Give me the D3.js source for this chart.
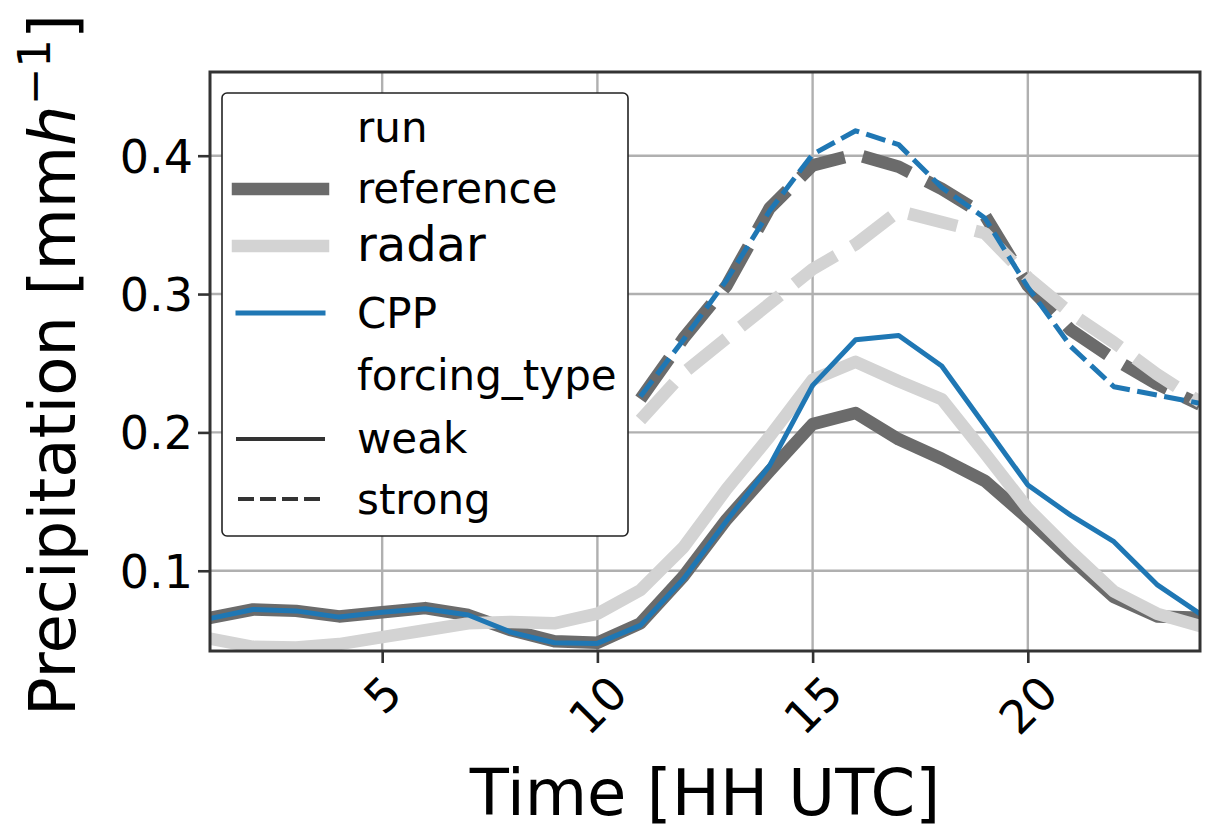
<!DOCTYPE html>
<html>
<head>
<meta charset="utf-8">
<script src="https://cdn.jsdelivr.net/npm/d3@7"></script>
<style>
  body { margin: 0; background: #fff; }
  svg { display: block; }
  text { font-family: "DejaVu Sans", "Liberation Sans", sans-serif; fill: #000; }
</style>
</head>
<body>
<svg id="chart" width="1207" height="831"></svg>
<script>
// ---------------- data ----------------
const hoursWeak   = [1,2,3,4,5,6,7,8,9,10,11,12,13,14,15,16,17,18,19,20,21,22,23,24];
const hoursStrong = [11,12,13,14,15,16,17,18,19,20,21,22,23,24];

const referenceWeak = [0.066,0.072,0.071,0.067,0.070,0.073,0.068,0.057,0.049,0.048,0.062,0.096,0.137,0.172,0.206,0.214,0.195,0.181,0.165,0.138,0.109,0.081,0.067,0.066];
const radarWeak     = [0.051,0.045,0.0445,0.047,0.052,0.057,0.062,0.063,0.062,0.069,0.086,0.117,0.159,0.197,0.238,0.251,0.237,0.224,0.185,0.145,0.114,0.085,0.069,0.060];
const cppWeak       = [0.0655,0.072,0.071,0.0665,0.070,0.0725,0.068,0.0555,0.048,0.0475,0.0605,0.094,0.136,0.176,0.234,0.267,0.270,0.248,0.205,0.162,0.140,0.121,0.090,0.069];

const referenceStrong = [0.224,0.268,0.306,0.362,0.393,0.401,0.392,0.376,0.357,0.306,0.274,0.253,0.235,0.220];
const radarStrong     = [0.209,0.243,0.268,0.293,0.318,0.336,0.360,0.352,0.344,0.312,0.286,0.265,0.242,0.222];
const cppStrong       = [0.226,0.267,0.310,0.360,0.401,0.418,0.408,0.377,0.355,0.305,0.262,0.233,0.227,0.221];

const xTicks = [5,10,15,20];
const xTickLabels = ["5","10","15","20"];
const yTicks = [0.1,0.2,0.3,0.4];
const yTickLabels = ["0.1","0.2","0.3","0.4"];

const runNames = ["reference","radar","CPP"];
const forcingNames = ["weak","strong"];

// ---------------- styles ----------------
const runStyle = {
  reference: {color: "#6b6b6b", width: 12.5},
  radar:     {color: "#d3d3d3", width: 12.5},
  CPP:       {color: "#1f77b4", width: 5}
};

const series = [
  {run: "reference", forcing: "weak",   x: hoursWeak,   y: referenceWeak},
  {run: "reference", forcing: "strong", x: hoursStrong, y: referenceStrong},
  {run: "radar",     forcing: "weak",   x: hoursWeak,   y: radarWeak},
  {run: "radar",     forcing: "strong", x: hoursStrong, y: radarStrong},
  {run: "CPP",       forcing: "weak",   x: hoursWeak,   y: cppWeak},
  {run: "CPP",       forcing: "strong", x: hoursStrong, y: cppStrong}
];

// ---------------- layout ----------------
const svg = d3.select("#chart");
const L = 210, R = 1200, T = 72, B = 651;
const x = d3.scaleLinear().domain([1, 24]).range([L, R]);
const y = d3.scaleLinear().domain([0.042, 0.4605]).range([B, T]);

svg.append("rect").attr("width", 1207).attr("height", 831).attr("fill", "#fff");

svg.append("defs").append("clipPath").attr("id", "clip")
  .append("rect").attr("x", L).attr("y", T).attr("width", R - L).attr("height", B - T);

// grid
const grid = svg.append("g");
grid.selectAll(".gx").data(xTicks).join("line")
  .attr("x1", d => x(d)).attr("x2", d => x(d)).attr("y1", T).attr("y2", B)
  .attr("stroke", "#b0b0b0").attr("stroke-width", 2.4);
grid.selectAll(".gy").data(yTicks).join("line")
  .attr("y1", d => y(d)).attr("y2", d => y(d)).attr("x1", L).attr("x2", R)
  .attr("stroke", "#b0b0b0").attr("stroke-width", 2.4);

// lines
const lineGen = d3.line().x(d => x(d[0])).y(d => y(d[1]));
const lines = svg.append("g").attr("clip-path", "url(#clip)");
series.forEach(s => {
  const st = runStyle[s.run];
  const pts = s.x.map((h, i) => [h, s.y[i]]);
  const p = lines.append("path")
    .attr("d", lineGen(pts))
    .attr("fill", "none")
    .attr("stroke", st.color)
    .attr("stroke-width", st.width)
    .attr("stroke-linejoin", "round");
  if (s.forcing === "strong") {
    p.attr("stroke-dasharray", `${4 * st.width},${1.5 * st.width}`).attr("stroke-linecap", "butt");
  } else {
    p.attr("stroke-linecap", "square");
  }
});

// axes using d3 axis generators
const tickFont = 46;
const xAxis = d3.axisBottom(x).tickValues(xTicks).tickFormat((d, i) => xTickLabels[i]).tickSize(12).tickPadding(8);
const yAxis = d3.axisLeft(y).tickValues(yTicks).tickFormat((d, i) => yTickLabels[i]).tickSize(12).tickPadding(5);

const gx = svg.append("g").attr("transform", `translate(0,${B})`).call(xAxis);
const gy = svg.append("g").attr("transform", `translate(${L},0)`).call(yAxis);
[gx, gy].forEach(g => {
  g.select(".domain").remove();
  g.selectAll(".tick line").attr("stroke", "#333").attr("stroke-width", 2.6);
  g.selectAll(".tick text").attr("font-size", tickFont).attr("fill", "#000")
    .style("font-family", '"DejaVu Sans", sans-serif');
});
// rotate x tick labels by 45 deg, centred under the tick (matplotlib style)
gx.selectAll(".tick text").each(function() {
  const t = d3.select(this);
  const w = this.getComputedTextLength();
  const h = tickFont * 0.95;
  const half = (w + h) / (2 * Math.SQRT2);
  t.attr("text-anchor", "middle").attr("dy", null).attr("y", null)
   .attr("dominant-baseline", "central")
   .attr("transform", `translate(0,${12 + 6 + half}) rotate(-45)`);
});
gy.selectAll(".tick text").attr("dy", "0.36em");

// spines
svg.append("rect").attr("x", L).attr("y", T).attr("width", R - L).attr("height", B - T)
  .attr("fill", "none").attr("stroke", "#333").attr("stroke-width", 3);

// axis labels
svg.append("text")
  .attr("x", (L + R) / 2).attr("y", 815)
  .attr("text-anchor", "middle").attr("font-size", 64)
  .text("Time [HH UTC]");

const yl = svg.append("text")
  .attr("transform", `translate(75,${365}) rotate(-90)`)
  .attr("text-anchor", "middle").attr("font-size", 64);
yl.append("tspan").text("Precipitation [mm");
yl.append("tspan").attr("font-style", "italic").text("h");
yl.append("tspan").attr("font-size", 45).attr("dy", -25).text("\u22121");
yl.append("tspan").attr("dy", 25).text("]");

// legend
const lg = svg.append("g");
lg.append("rect").attr("x", 222).attr("y", 93).attr("width", 406).attr("height", 443)
  .attr("rx", 5).attr("fill", "#fff").attr("stroke", "#222").attr("stroke-width", 1.6);

const legendItems = [
  {label: "run", size: 42, base: 142},
  {label: runNames[0], size: 42, base: 203, color: runStyle.reference.color, width: runStyle.reference.width},
  {label: runNames[1], size: 48, base: 261, color: runStyle.radar.color, width: runStyle.radar.width},
  {label: runNames[2], size: 42, base: 328, color: runStyle.CPP.color, width: runStyle.CPP.width},
  {label: "forcing_type", size: 42, base: 390},
  {label: forcingNames[0], size: 42, base: 453, color: "#333", width: 4},
  {label: forcingNames[1], size: 42, base: 514, color: "#333", width: 4, dashed: true}
];
const handleY = [0, 189, 246, 313, 0, 439, 499];
legendItems.forEach((it, i) => {
  lg.append("text").attr("x", 357).attr("y", it.base).attr("font-size", it.size).text(it.label);
  if (it.color) {
    const l = lg.append("line")
      .attr("x1", 238).attr("x2", 323).attr("y1", handleY[i]).attr("y2", handleY[i])
      .attr("stroke", it.color).attr("stroke-width", it.width);
    if (it.dashed) l.attr("stroke-dasharray", "16,6").attr("stroke-linecap", "butt");
    else l.attr("stroke-linecap", "square");
  }
});
</script>
</body>
</html>
